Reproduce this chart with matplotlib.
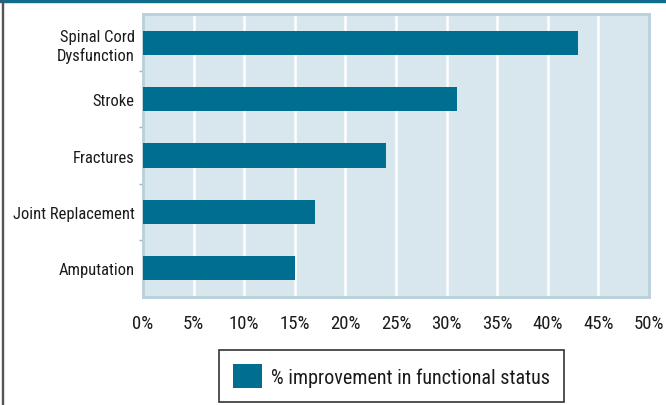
import matplotlib.pyplot as plt
from matplotlib.patches import Rectangle
from matplotlib.ticker import FixedLocator

# percent improvement in functional status by condition
conditions = ['Spinal Cord\nDysfunction', 'Stroke', 'Fractures',
              'Joint Replacement', 'Amputation']
improvement = [43, 31, 24, 17, 15]
x_ticks = [0, 5, 10, 15, 20, 25, 30, 35, 40, 45, 50]
x_labels = [f'{t}%' for t in x_ticks]

bar_color = '#006e91'
bg_color = '#d8e6ee'
frame_color = '#b7d0dc'

plt.rcParams['font.family'] = ['Roboto Condensed', 'Liberation Sans Narrow',
                               'Roboto', 'DejaVu Sans']
plt.rcParams['font.stretch'] = 'condensed'

fig = plt.figure(figsize=(6.66, 4.06), dpi=100)
ax = fig.add_axes([0.2147, 0.266, 0.7598, 0.697])
ax.set_facecolor(bg_color)

pos = list(range(len(conditions)))
ax.barh(pos, improvement, height=0.43, color=bar_color, zorder=3,
        label='% improvement in functional status')

ax.set_xlim(0, 50)
ax.set_ylim(len(conditions) - 0.48, -0.52)
ax.set_xticks(x_ticks)
ax.set_xticklabels(x_labels, fontsize=13.5, color='#1a1a1a')
ax.set_yticks(pos)
ax.set_yticklabels(conditions, fontsize=11.9, linespacing=1.2,
                   color='#1a1a1a')
ax.yaxis.set_minor_locator(FixedLocator([p + 0.5 for p in pos[:-1]]))
ax.tick_params(axis='y', which='minor', length=3, color='#9ab4c2', width=1)
ax.tick_params(axis='y', which='major', length=0, pad=6)
ax.tick_params(axis='x', which='major', length=0, pad=12)

ax.grid(axis='x', color='white', linewidth=1.8, zorder=1)
for side in ax.spines.values():
    side.set_color(frame_color)
    side.set_linewidth(2)

# outer frame: teal band on top, thin dark rule on the left
fig.patches.append(Rectangle((0, 0.992), 1, 0.008, transform=fig.transFigure,
                             color='#116b8a', zorder=5))
fig.patches.append(Rectangle((0.003, 0), 0.0018, 1, transform=fig.transFigure,
                             color='#555555', zorder=5))

leg = fig.legend(loc='center', bbox_to_anchor=(0.588, 0.071), fontsize=14.5,
                 frameon=True, fancybox=False, edgecolor='black',
                 handlelength=1.45, handleheight=1.45, borderpad=0.7,
                 borderaxespad=0, handletextpad=0.45,
                 labelcolor='#1a1a1a')
leg.get_frame().set_linewidth(1.2)

fig.savefig('out.png', dpi=100)
